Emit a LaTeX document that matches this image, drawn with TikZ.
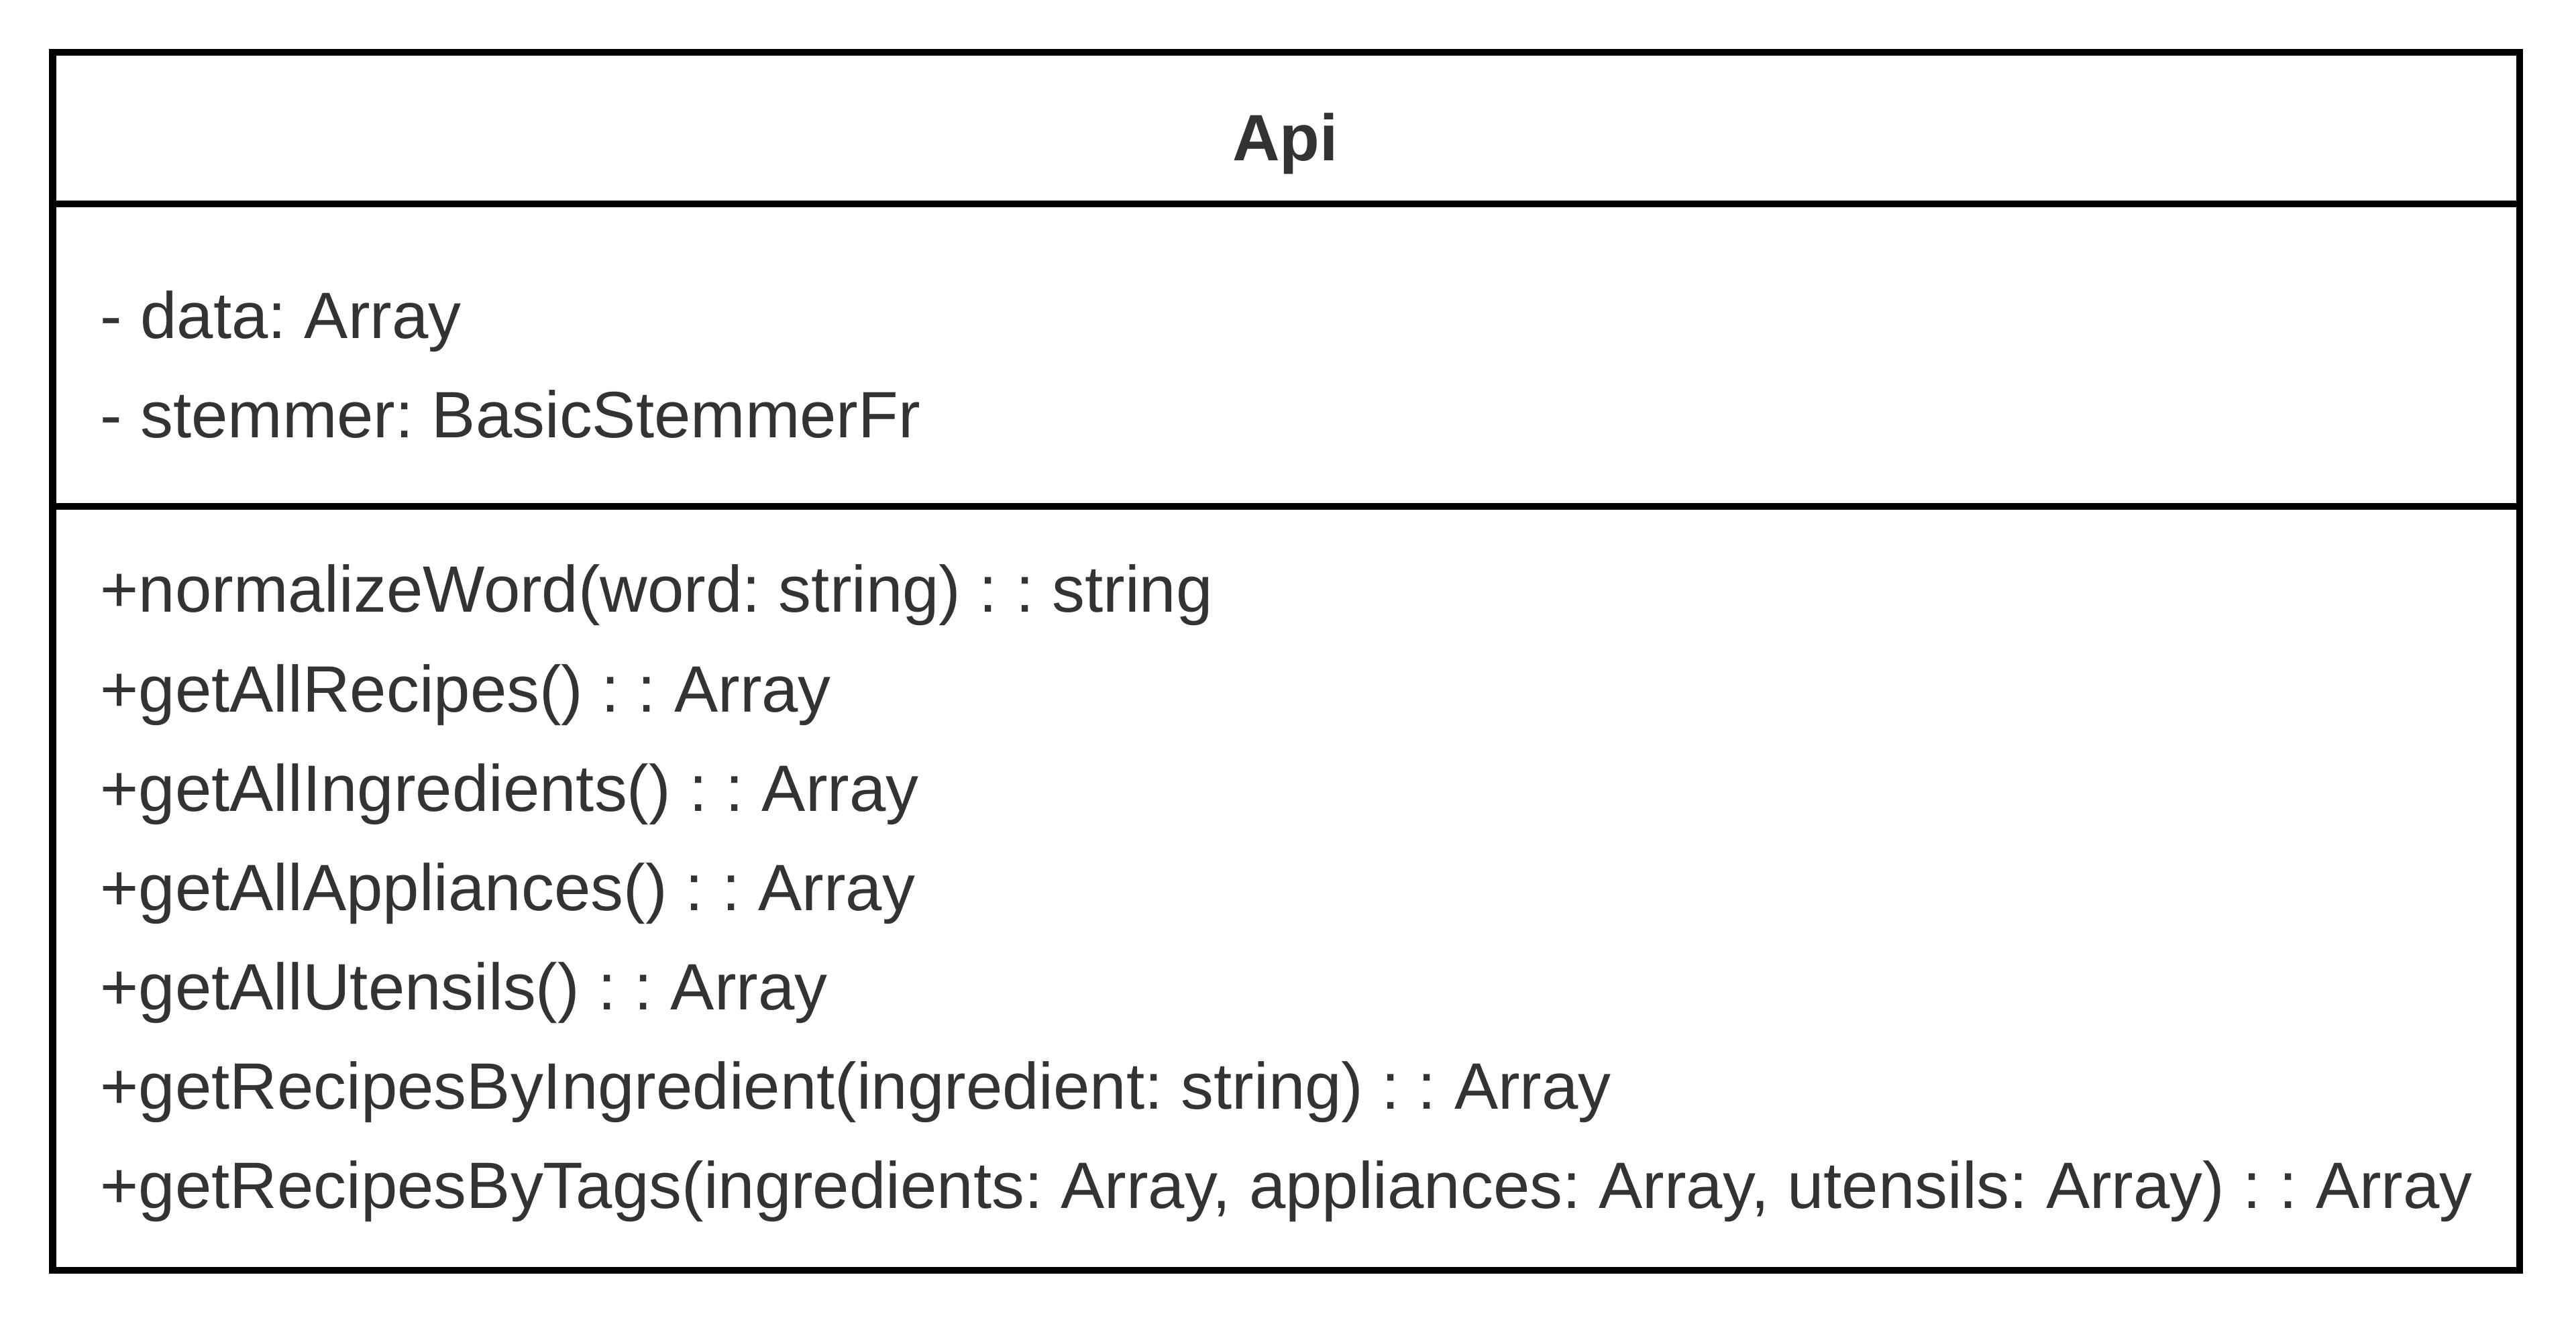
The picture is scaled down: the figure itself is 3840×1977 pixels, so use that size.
\documentclass[tikz,border=0pt]{standalone}
\usepackage{fontspec}
\setmainfont{Liberation Sans}
\definecolor{txt}{HTML}{333333}
\frenchspacing
\begin{document}
\begin{tikzpicture}[x=0.01cm,y=-0.01cm,
  frame/.style={draw=black,line width=0.1cm},
  member/.style={anchor=base west,inner sep=0pt,text=txt,font=\fontsize{27.8pt}{30pt}\selectfont},
  title/.style={anchor=base,inner sep=0pt,text=txt,font=\fontsize{27.8pt}{30pt}\selectfont\bfseries}]
\useasboundingbox[fill=white] (0,0) rectangle (3840,1977);
% class box and compartments
\node (cls) [frame,rectangle,inner sep=0pt,outer sep=0pt,minimum width=36.755cm,minimum height=18.15cm,anchor=north west] at (78.5,78) {};
\coordinate (h1) at (78.5,304);
\coordinate (h2) at (78.5,755);
\draw[frame] (h1) -- (h1 -| cls.east);
\draw[frame] (h2) -- (h2 -| cls.east);
% name
\node (name) [title] at (1916,240) {Api};
% attributes
\node (a1) [member] at (149,505) {- data: Array};
\node (a2) [member] at (149,653) {- stemmer: BasicStemmerFr};
% operations
\node (m1) [member] at (149,913) {+normalizeWord(word: string) : : string};
\node (m2) [member] at (149,1061) {+getAllRecipes() : : Array};
\node (m3) [member] at (149,1209) {+getAllIngredients() : : Array};
\node (m4) [member] at (149,1357) {+getAllAppliances() : : Array};
\node (m5) [member] at (149,1505) {+getAllUtensils() : : Array};
\node (m6) [member] at (149,1653) {+getRecipesByIngredient(ingredient: string) : : Array};
\node (m7) [member] at (149,1801) {+getRecipesByTags(ingredients: Array, appliances: Array, utensils: Array) : : Array};
\end{tikzpicture}
\end{document}
